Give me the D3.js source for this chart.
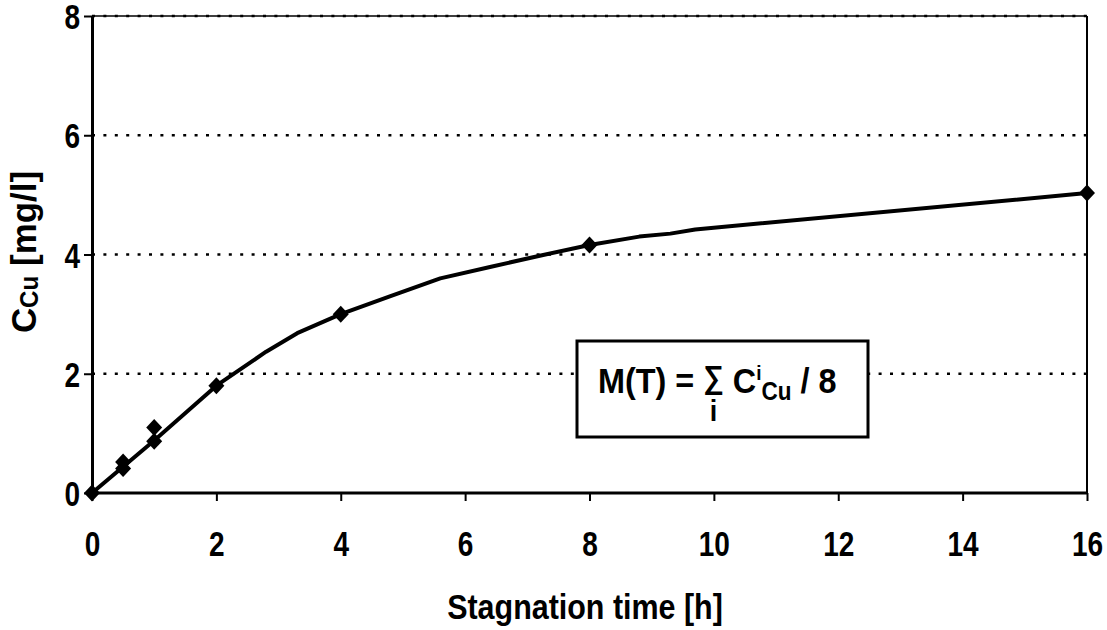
<!DOCTYPE html>
<html><head><meta charset="utf-8">
<script src="https://cdn.jsdelivr.net/npm/d3@7"></script>
<style>
body{margin:0;background:#fff;}
text{font-family:"Liberation Sans",Arial,sans-serif;font-weight:bold;fill:#000;}
</style></head><body>
<svg id="chart" width="1107" height="630"></svg>
<script>
// ---- data ----
const xTicks = [0, 2, 4, 6, 8, 10, 12, 14, 16];
const yTicks = [0, 2, 4, 6, 8];
const gridValues = [2, 4, 6, 8];
const sampleTime = [0, 0.5, 0.5, 1, 1, 2, 4, 8, 16];
const sampleConc = [0, 0.41, 0.52, 0.87, 1.10, 1.80, 3.00, 4.16, 5.03];
const curveTime = [0, 1, 2, 2.8, 3.3, 4, 4.8, 5.6, 6.4, 7.2, 8, 8.8, 9.3, 9.7, 16];
const curveConc = [0, 0.88, 1.80, 2.37, 2.68, 3.00, 3.30, 3.60, 3.79, 3.98, 4.16, 4.30, 4.35, 4.42, 5.03];
const xTitle = "Stagnation time [h]";

// ---- layout ----
const svg = d3.select("#chart");
const L = 92, R = 1087, T = 16, B = 493;
const SX = 0.8; // horizontal compression of the tick lettering
const x = d3.scaleLinear().domain([0, 16]).range([L, R]);
const y = d3.scaleLinear().domain([0, 8]).range([B, T]);

// grid lines (dotted)
svg.append("g").selectAll("line").data(gridValues).join("line")
  .attr("x1", L).attr("x2", R)
  .attr("y1", d => y(d)).attr("y2", d => y(d))
  .attr("stroke", "#000").attr("stroke-width", 2.5)
  .attr("stroke-dasharray", "3,8.4");

// top & right frame
svg.append("line").attr("x1", L).attr("x2", R).attr("y1", y(8)).attr("y2", y(8))
  .attr("stroke", "#000").attr("stroke-width", 1.5);
svg.append("line").attr("x1", R).attr("x2", R).attr("y1", T).attr("y2", B)
  .attr("stroke", "#000").attr("stroke-width", 2);

// axes
const xAxis = svg.append("g").attr("transform", `translate(0,${B})`)
  .call(d3.axisBottom(x).tickValues(xTicks).tickSize(8).tickPadding(12).tickSizeOuter(0));
const yAxis = svg.append("g").attr("transform", `translate(${L},0)`)
  .call(d3.axisLeft(y).tickValues(yTicks).tickSize(8).tickPadding(12).tickSizeOuter(0));
[xAxis, yAxis].forEach(a => {
  a.select(".domain").attr("stroke", "#000").attr("stroke-width", 3);
  a.selectAll(".tick line").attr("stroke", "#000").attr("stroke-width", 2);
  a.selectAll(".tick text").attr("font-size", 35).attr("font-family", null);
});
xAxis.selectAll(".tick text").attr("dy", null).attr("y", 63)
  .attr("transform", `scale(${SX},1)`);
yAxis.selectAll(".tick text").attr("dy", "0.36em").attr("x", -12 / SX)
  .attr("transform", `scale(${SX},1)`);
xAxis.select(".domain").attr("d", `M${L},0H${R}`);

// curve
const curve = curveTime.map((t, i) => [t, curveConc[i]]);
svg.append("path").datum(curve)
  .attr("d", d3.line().x(d => x(d[0])).y(d => y(d[1])))
  .attr("fill", "none").attr("stroke", "#000").attr("stroke-width", 4)
  .attr("stroke-linejoin", "round");

// markers
const pts = sampleTime.map((t, i) => [t, sampleConc[i]]);
svg.append("g").selectAll("path").data(pts).join("path")
  .attr("transform", d => `translate(${x(d[0])},${y(d[1])})`)
  .attr("d", "M0,-8.5L8,0L0,8.5L-8,0Z").attr("fill", "#000");

// formula box
const box = svg.append("g");
box.append("rect").attr("x", 577).attr("y", 341).attr("width", 291).attr("height", 96)
  .attr("fill", "#fff").attr("stroke", "#000").attr("stroke-width", 3);
const BX = 0.9, bx0 = 598, by0 = 393;
const ft = box.append("text").attr("transform", `translate(${bx0},${by0}) scale(${BX},1)`)
  .attr("font-size", 36);
ft.append("tspan").text("M(T) = ");
ft.append("tspan").attr("font-size", 32).attr("dy", -5).text("\u2211");
ft.append("tspan").attr("dy", 5).text(" C");
ft.append("tspan").attr("font-size", 21).attr("dy", -13).text("i");
ft.append("tspan").attr("font-size", 25).attr("dy", 20).text("Cu");
ft.append("tspan").attr("dy", -7).text(" / 8");
const sIdx = "M(T) = ".length;
const ext = ft.node().getExtentOfChar(sIdx);
box.append("text").attr("transform", `translate(${bx0 + (ext.x + ext.width / 2) * BX},${by0 + 28}) scale(${BX},1)`)
  .attr("text-anchor", "middle").attr("font-size", 30).text("i");

// axis titles
svg.append("text").attr("transform", `translate(585,619) scale(0.87,1)`)
  .attr("text-anchor", "middle").attr("font-size", 35).text(xTitle);
const yt = svg.append("text").attr("transform", `translate(36,252) rotate(-90) scale(0.97,1)`)
  .attr("text-anchor", "middle").attr("font-size", 36);
yt.append("tspan").text("C");
yt.append("tspan").attr("font-size", 25).attr("dy", 2).text("Cu");
yt.append("tspan").attr("dy", -2).text(" [mg/l]");
</script>
</body></html>
